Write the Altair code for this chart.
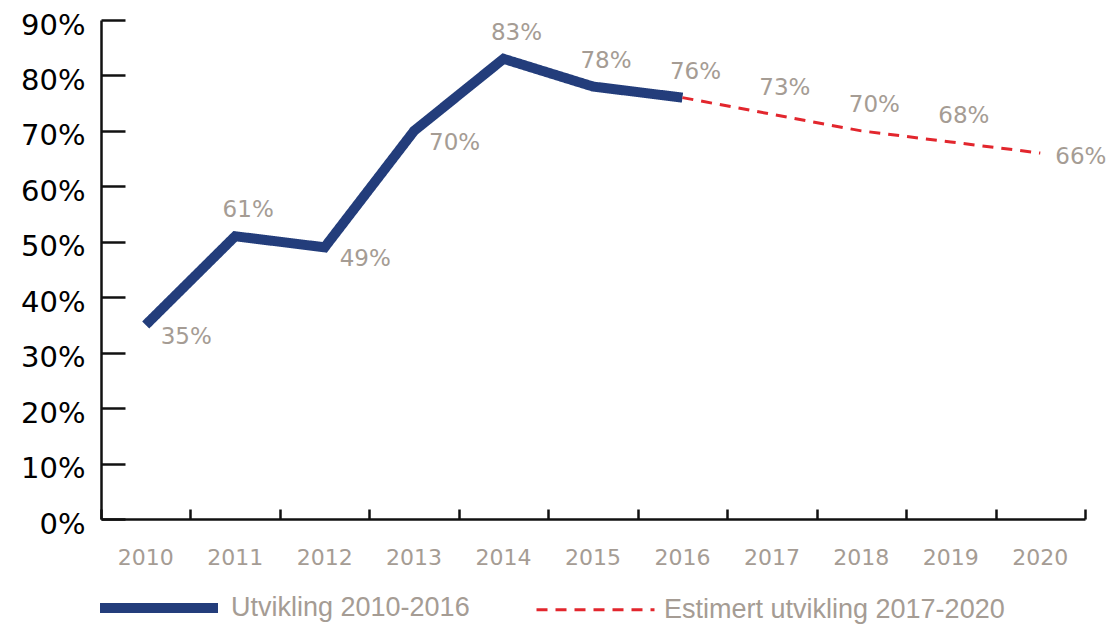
import altair as alt
import pandas as pd

# ---- data ----
years = ["2010", "2011", "2012", "2013", "2014", "2015",
         "2016", "2017", "2018", "2019", "2020"]
actual_years = ["2010", "2011", "2012", "2013", "2014", "2015", "2016"]
actual_values = [35, 51, 49, 70, 83, 78, 76]
estimate_years = ["2016", "2017", "2018", "2019", "2020"]
estimate_values = [76, 73, 70, 68, 66]
label_texts = ["35%", "61%", "49%", "70%", "83%", "78%",
               "76%", "73%", "70%", "68%", "66%"]
label_values = actual_values + estimate_values[1:]
below_years = ["2010", "2012", "2013"]
right_years = ["2020"]
series = ["Utvikling 2010-2016", "Estimert utvikling 2017-2020"]
y_ticks = [0, 10, 20, 30, 40, 50, 60, 70, 80, 90]

BLUE = "#233d7b"
RED = "#e2262d"
GRAY = "#a59c94"
AXIS = "#111111"
FONT = "DejaVu Sans"
LEGEND_FONT = "Liberation Sans"

lines_df = pd.DataFrame({
    "year": actual_years + estimate_years,
    "value": actual_values + estimate_values,
    "series": [series[0]] * len(actual_years) + [series[1]] * len(estimate_years),
})


def placement(y):
    if y in below_years:
        return "below"
    if y in right_years:
        return "right"
    return "above"


labels_df = pd.DataFrame({
    "year": years,
    "value": label_values,
    "text": label_texts,
    "pos": [placement(y) for y in years],
})

x_scale = alt.Scale(type="band", domain=years, paddingInner=0, paddingOuter=0)
y_scale = alt.Scale(domain=[0, 90], nice=False, zero=True)

legend = alt.Legend(
    title=None, orient="none", legendX=-6, legendY=524, direction="horizontal",
    symbolType="stroke", symbolSize=13924, labelFont=LEGEND_FONT, labelFontSize=27,
    labelColor=GRAY, labelOffset=8, labelBaseline="middle", labelLimit=500,
    columnPadding=60, padding=0,
)

lines = alt.Chart(lines_df).mark_line(strokeCap="butt", strokeJoin="miter").encode(
    x=alt.X("year:N", scale=x_scale, bandPosition=0.5,
            axis=alt.Axis(title=None, domain=True, domainColor=AXIS, domainWidth=2.5,
                          ticks=False, tickSize=0, labelPadding=38, labelBaseline="middle",
                          labelFont=FONT, labelFontSize=22, labelColor=GRAY, labelAngle=0,
                          grid=False)),
    y=alt.Y("value:Q", scale=y_scale,
            axis=alt.Axis(title=None, values=y_ticks, domain=True, domainColor=AXIS,
                          domainWidth=2.5, ticks=False, tickSize=0, labelPadding=16,
                          labelExpr="datum.value + '%'", labelFont=FONT, labelFontSize=29,
                          labelColor="#000000", labelOffset=5, grid=False)),
    color=alt.Color("series:N", scale=alt.Scale(domain=series, range=[BLUE, RED]), legend=legend),
    strokeDash=alt.StrokeDash("series:N", scale=alt.Scale(domain=series, range=[[1, 0], [11, 8]]),
                              legend=legend),
    strokeWidth=alt.StrokeWidth("series:N", scale=alt.Scale(type="ordinal", domain=series, range=[10, 3]),
                                legend=legend),
)

ticks = alt.Chart(labels_df).mark_point(opacity=0).encode(
    x=alt.X("year:N", scale=x_scale,
            axis=alt.Axis(title=None, orient="bottom", offset=-10, domain=False, labels=False,
                          ticks=True, tickSize=10, tickWidth=2.5, tickColor=AXIS,
                          tickBand="extent", grid=False)),
    y=alt.Y("value:Q", scale=y_scale,
            axis=alt.Axis(title=None, orient="left", offset=-24, domain=False, labels=False,
                          ticks=True, tickSize=24, tickWidth=2.5, tickColor=AXIS,
                          values=y_ticks, grid=False)),
)


def label_layer(pos, dx, dy, align):
    return alt.Chart(labels_df).transform_filter(alt.datum.pos == pos).mark_text(
        align=align, baseline="middle", dx=dx, dy=dy, font=FONT, fontSize=23,
        color=GRAY,
    ).encode(
        x=alt.X("year:N", scale=x_scale, bandPosition=0.5, axis=None),
        y=alt.Y("value:Q", scale=y_scale, axis=None),
        text="text:N",
    )


chart = alt.layer(
    lines, ticks,
    label_layer("above", 13, -26, "center"),
    label_layer("below", 15, 12, "left"),
    label_layer("right", 15, 4, "left"),
).resolve_axis(
    x="independent", y="independent"
).properties(
    width=984, height=499,
    autosize=alt.AutoSizeParams(type="none"),
    padding={"left": 93, "top": 12, "right": 23, "bottom": 105},
).configure_view(strokeWidth=0)

chart.save("out.html", embed_options={"renderer": "svg", "actions": False})
